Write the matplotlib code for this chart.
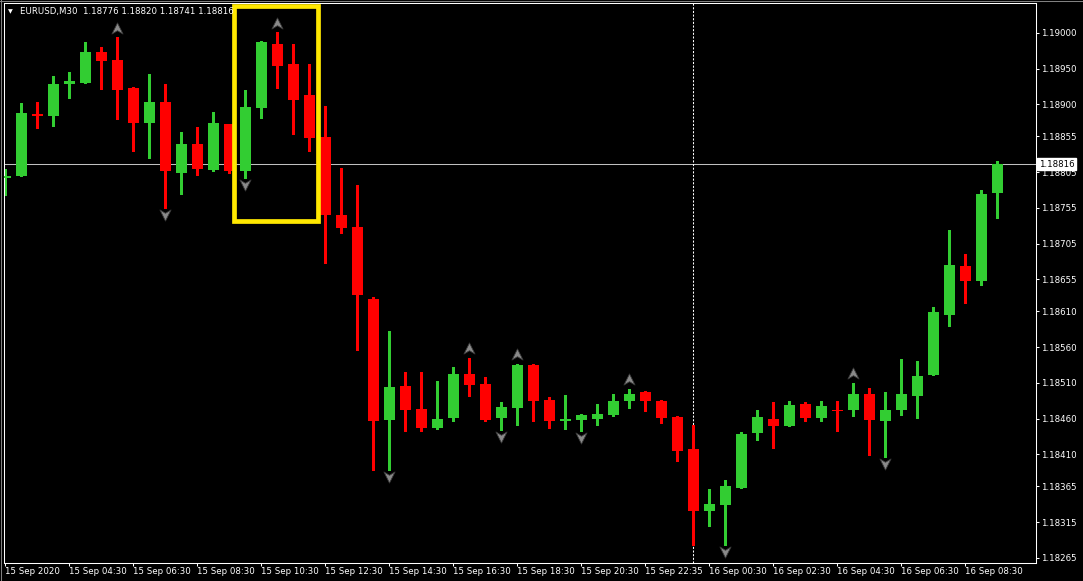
#!/usr/bin/env python3
"""
EURUSD M30 candlestick chart, MetaTrader style, with fractal arrows
"""
import matplotlib
matplotlib.use('Agg')
import matplotlib.pyplot as plt
import numpy as np
from matplotlib.path import Path
from matplotlib.patches import Rectangle
from matplotlib.lines import Line2D
from matplotlib.transforms import offset_copy, blended_transform_factory

plt.rcParams['font.family'] = ['DejaVu Sans']

symbol = 'EURUSD,M30'

opens = [1.18797, 1.18800, 1.18886, 1.18883, 1.18929, 1.18930, 1.18973, 1.18962, 1.18923, 1.18874,
         1.18903, 1.18804, 1.18845, 1.18808, 1.18872, 1.18807, 1.18895, 1.18985, 1.18956, 1.18913,
         1.18854, 1.18745, 1.18728, 1.18627, 1.18458, 1.18506, 1.18473, 1.18447, 1.18461, 1.18522,
         1.18508, 1.18461, 1.18475, 1.18535, 1.18486, 1.18456, 1.18458, 1.18460, 1.18465, 1.18484,
         1.18497, 1.18485, 1.18462, 1.18417, 1.18331, 1.18339, 1.18363, 1.18440, 1.18459, 1.18450,
         1.18480, 1.18461, 1.18472, 1.18472, 1.18494, 1.18456, 1.18472, 1.18492, 1.18521, 1.18605,
         1.18674, 1.18652, 1.18776]

highs = [1.18809, 1.18902, 1.18903, 1.18940, 1.18945, 1.18987, 1.18980, 1.18994, 1.18924, 1.18942,
         1.18928, 1.18861, 1.18868, 1.18889, 1.18873, 1.18920, 1.18989, 1.19001, 1.18985, 1.18957,
         1.18897, 1.18811, 1.18787, 1.18630, 1.18582, 1.18525, 1.18525, 1.18513, 1.18532, 1.18545,
         1.18518, 1.18483, 1.18537, 1.18536, 1.18490, 1.18493, 1.18466, 1.18480, 1.18494, 1.18502,
         1.18498, 1.18486, 1.18464, 1.18451, 1.18361, 1.18374, 1.18441, 1.18472, 1.18483, 1.18485,
         1.18483, 1.18485, 1.18485, 1.18510, 1.18503, 1.18497, 1.18543, 1.18541, 1.18616, 1.18724,
         1.18690, 1.18780, 1.18820]

lows = [1.18773, 1.18799, 1.18867, 1.18870, 1.18909, 1.18930, 1.18922, 1.18880, 1.18835, 1.18825,
        1.18755, 1.18774, 1.18801, 1.18806, 1.18804, 1.18797, 1.18881, 1.18923, 1.18859, 1.18835,
        1.18678, 1.18720, 1.18556, 1.18388, 1.18388, 1.18442, 1.18442, 1.18445, 1.18456, 1.18491,
        1.18456, 1.18444, 1.18451, 1.18457, 1.18447, 1.18446, 1.18442, 1.18451, 1.18463, 1.18475,
        1.18470, 1.18454, 1.18401, 1.18283, 1.18310, 1.18283, 1.18363, 1.18430, 1.18419, 1.18449,
        1.18457, 1.18457, 1.18442, 1.18463, 1.18409, 1.18406, 1.18465, 1.18461, 1.18521, 1.18590,
        1.18622, 1.18647, 1.18741]

closes = [1.18799, 1.18888, 1.18883, 1.18928, 1.18933, 1.18973, 1.18961, 1.18920, 1.18874, 1.18903,
          1.18806, 1.18845, 1.18810, 1.18874, 1.18807, 1.18896, 1.18987, 1.18953, 1.18906, 1.18853,
          1.18745, 1.18727, 1.18633, 1.18457, 1.18504, 1.18472, 1.18447, 1.18459, 1.18522, 1.18507,
          1.18458, 1.18476, 1.18535, 1.18485, 1.18456, 1.18459, 1.18465, 1.18466, 1.18485, 1.18495,
          1.18484, 1.18461, 1.18415, 1.18330, 1.18341, 1.18365, 1.18438, 1.18462, 1.18449, 1.18479,
          1.18461, 1.18478, 1.18471, 1.18494, 1.18458, 1.18472, 1.18494, 1.18520, 1.18609, 1.18675,
          1.18652, 1.18774, 1.18816]

# fractal markers (bar indexes)
fractal_up = [7, 17, 29, 32, 39, 53]
fractal_down = [10, 15, 24, 31, 36, 45, 55]

# time axis labels, one every 4 bars
time_labels = ['15 Sep 2020', '15 Sep 04:30', '15 Sep 06:30', '15 Sep 08:30', '15 Sep 10:30',
               '15 Sep 12:30', '15 Sep 14:30', '15 Sep 16:30', '15 Sep 18:30', '15 Sep 20:30',
               '15 Sep 22:35', '16 Sep 00:30', '16 Sep 02:30', '16 Sep 04:30', '16 Sep 06:30',
               '16 Sep 08:30']
price_ticks = [1.19000, 1.18950, 1.18900, 1.18855, 1.18805, 1.18755, 1.18705, 1.18655,
               1.18610, 1.18560, 1.18510, 1.18460, 1.18410, 1.18365, 1.18315, 1.18265]

separator_bar = 43          # dashed vertical line
highlight_bars = (14.3, 19.55)
highlight_prices = (1.187373, 1.190383)

BULL = '#32CD32'
BEAR = '#FF0000'

o = np.array(opens)
h = np.array(highs)
l = np.array(lows)
c = np.array(closes)
x = np.arange(len(o))
colors = [BULL if cc >= oo else BEAR for oo, cc in zip(o, c)]

W, H = 1083, 581
fig = plt.figure(figsize=(W / 100, H / 100), dpi=100, facecolor='black')
# frame pixel box: left 3.5, right 1036.2, top 2.5, bottom 562.5
ax = fig.add_axes([3.5 / W, (H - 562.5) / H, (1036.2 - 3.5) / W, (562.5 - 2.5) / H])
ax.set_facecolor('black')

ax.set_xlim(-0.125, 64.42)
ax.set_ylim(1.182585, 1.190425)

# wicks and bodies
ax.vlines(x, l, h, colors=colors, linewidth=0.75, zorder=2, antialiased=False)
min_h = (ax.get_ylim()[1] - ax.get_ylim()[0]) / 560
bottoms = np.minimum(o, c)
heights = np.maximum(np.abs(c - o), min_h)
ax.bar(x, heights, bottom=bottoms, width=0.6875, color=colors, linewidth=0,
       zorder=3, antialiased=False)

# bid line
ax.axhline(c[-1], color='#C0C0C0', linewidth=0.75, zorder=1)

# separator
ax.axvline(separator_bar, color='white', linewidth=0.75, linestyle=(0, (2, 1.5)), zorder=1)

# fractal arrows
up_arrow = Path([(0, 1), (1, -1), (0, -0.4), (-1, -1), (0, 1)],
                [Path.MOVETO, Path.LINETO, Path.LINETO, Path.LINETO, Path.CLOSEPOLY])
down_arrow = Path([(0, -1), (1, 1), (0, 0.4), (-1, 1), (0, -1)],
                  [Path.MOVETO, Path.LINETO, Path.LINETO, Path.LINETO, Path.CLOSEPOLY])
up_tr = offset_copy(ax.transData, fig=fig, x=0, y=9.5, units='dots')
dn_tr = offset_copy(ax.transData, fig=fig, x=0, y=-7, units='dots')
ax.plot(x[fractal_up], h[fractal_up], linestyle='none', marker=up_arrow, markersize=8,
        markerfacecolor='#8a8a8a', markeredgecolor='#3a3a3a', markeredgewidth=0.6,
        transform=up_tr, zorder=4)
ax.plot(x[fractal_down], l[fractal_down], linestyle='none', marker=down_arrow, markersize=8,
        markerfacecolor='#8a8a8a', markeredgecolor='#3a3a3a', markeredgewidth=0.6,
        transform=dn_tr, zorder=4)

# yellow highlight box
ax.add_patch(Rectangle((highlight_bars[0], highlight_prices[0]),
                       highlight_bars[1] - highlight_bars[0],
                       highlight_prices[1] - highlight_prices[0],
                       fill=False, edgecolor='#FFE800', linewidth=3.4, zorder=5))

# axes styling
for side in ['left', 'right', 'top', 'bottom']:
    ax.spines[side].set_color('white')
    ax.spines[side].set_linewidth(0.75)

ax.yaxis.tick_right()
ax.set_yticks(price_ticks)
ax.set_yticklabels([f'{p:.5f}' for p in price_ticks])
ax.tick_params(axis='y', colors='white', labelcolor='white', length=2.5, width=0.75,
               pad=1.2, labelsize=6.2, direction='out')

ax.set_xticks(x[::4][:len(time_labels)])
ax.set_xticklabels(time_labels)
ax.tick_params(axis='x', colors='white', labelcolor='white', length=2.5, width=0.75,
               pad=1.0, labelsize=6.2, direction='out')
for lbl in ax.get_xticklabels():
    lbl.set_horizontalalignment('left')

# bid price box
bt = blended_transform_factory(ax.transAxes, ax.transData)
ax.text(1.0 + 2.5 / 1032.7, c[-1], f'{c[-1]:.5f}', transform=bt, ha='left', va='center',
        fontsize=6.2, color='black', zorder=10, clip_on=False,
        bbox=dict(boxstyle='square,pad=0.15', facecolor='white', edgecolor='white'))

# header
fig.text(8 / W, 1 - 11.5 / H, '\u25BC', color='white', fontsize=4.5, va='center', ha='left')
fig.text(20 / W, 1 - 11.5 / H,
         f'{symbol}  {o[-1]:.5f} {h[-1]:.5f} {l[-1]:.5f} {c[-1]:.5f}',
         color='white', fontsize=6.2, va='center', ha='left')

# window border
fig.add_artist(Line2D([0, 1], [1 - 0.5 / H, 1 - 0.5 / H], transform=fig.transFigure,
                      color='#808080', linewidth=0.75))
fig.add_artist(Line2D([0.5 / W, 0.5 / W], [0, 1], transform=fig.transFigure,
                      color='#808080', linewidth=0.75))

fig.savefig('out.png', dpi=100, facecolor='black')
plt.close(fig)
